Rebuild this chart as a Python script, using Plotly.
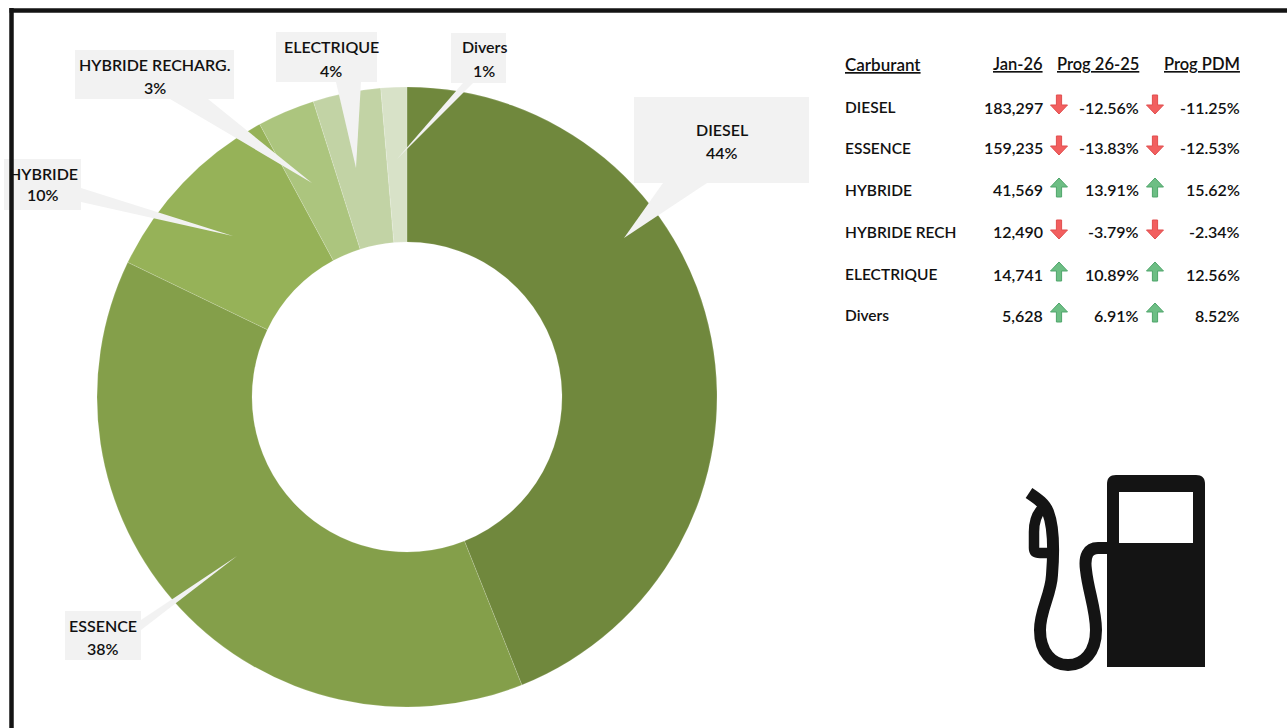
import plotly.graph_objects as go

W, H = 1287, 728

# ---- data ----
carburants = ["DIESEL", "ESSENCE", "HYBRIDE", "HYBRIDE RECH", "ELECTRIQUE", "Divers"]
callout_names = ["DIESEL", "ESSENCE", "HYBRIDE", "HYBRIDE RECHARG.", "ELECTRIQUE", "Divers"]
jan26 = [183297, 159235, 41569, 12490, 14741, 5628]
prog_26_25 = [-12.56, -13.83, 13.91, -3.79, 10.89, 6.91]
prog_pdm = [-11.25, -12.53, 15.62, -2.34, 12.56, 8.52]
headers = ["Carburant", "Jan-26", "Prog 26-25", "Prog PDM"]
slice_colors = ["#70883D", "#849F4A", "#96B258", "#ACC57E", "#C2D3A5", "#D8E2C8"]


def px(x):
    return x / W


def py(y):
    return 1 - y / H


def pth(cmds):
    out = []
    for c, *pts in cmds:
        out.append(c + " " + " ".join(f"{px(x):.5f},{py(y):.5f}" for x, y in pts))
    return " ".join(out)


FONT = "Lato"
shapes, annos = [], []


def text(x, y, s, anchor="center", size=16):
    annos.append(dict(x=px(x), y=py(y), xref="paper", yref="paper", text=s, showarrow=False,
                      xanchor=anchor, yanchor="middle", borderpad=0, borderwidth=0,
                      font=dict(family=FONT, size=size, color="#111111", weight=600)))


def path(cmds, fill=None, line=None, lw=0, closed=True):
    d = pth(cmds) + (" Z" if closed else "")
    shapes.append(dict(type="path", path=d, xref="paper", yref="paper", layer="above",
                       fillcolor=fill or "rgba(0,0,0,0)",
                       line=dict(color=line or "rgba(0,0,0,0)", width=lw)))


# ---- callouts: box (x0, y0, x1, y1), tail (base A, base B, tip), text centre, line ys ----
callouts = [
    ((634, 97, 809, 183), ((663, 183), (707, 183), (624, 238)), 722, (129, 152)),
    ((65, 611, 141, 660), ((141, 620), (141, 630), (237, 556)), 103, (625, 648)),
    ((4, 159, 81, 210), ((81, 188), (81, 202), (233, 236)), 43, (173, 195)),
    ((75, 50, 234, 99), ((170, 99), (208, 99), (312, 183)), 155, (64, 87)),
    ((276, 32, 377, 82), ((336, 82), (361, 82), (356, 168)), 331, (46, 70)),
    ((451, 33, 506, 83), ((463, 83), (473, 83), (397, 159)), 484, (47, 71)),
]
total = sum(jan26)
for name, v, (box, tail, cx, ys) in zip(callout_names, jan26, callouts):
    x0, y0, x1, y1 = box
    path([("M", (x0, y0)), ("L", (x1, y0)), ("L", (x1, y1)), ("L", (x0, y1))], fill="#F2F2F2")
    path([("M", tail[0]), ("L", tail[2]), ("L", tail[1])], fill="#F2F2F2")
    text(cx, ys[0], name)
    text(cx, ys[1], f"{round(v / total * 100)}%")

# ---- table ----
HEAD_Y = 64
ROW_Y = [107, 148, 190, 232, 274, 315]
LEFT, C1, C2, C3 = 845, 1043, 1139, 1240
A1, A2 = 1059, 1155

text(LEFT, HEAD_Y, f"<u>{headers[0]}</u>", "left", 17)
for xr, h in zip((C1, C2, C3), headers[1:]):
    text(xr, HEAD_Y, f"<u>{h}</u>", "right", 16.5)


def arrow(cx, rowy, up):
    col = ("#6DBE84", "#4FA56B") if up else ("#F25F5F", "#E04F4F")
    s = -1 if up else 1
    cy = rowy - 2.5
    hw, sw, hh, sh = 8.5, 2.6, 9.5, 0.5
    path([("M", (cx - sw, cy - s * hh)), ("L", (cx + sw, cy - s * hh)), ("L", (cx + sw, cy + s * sh)),
          ("L", (cx + hw, cy + s * sh)), ("L", (cx, cy + s * hh)), ("L", (cx - hw, cy + s * sh)),
          ("L", (cx - sw, cy + s * sh))], fill=col[0], line=col[1], lw=1)


for name, y, v, p1, p2 in zip(carburants, ROW_Y, jan26, prog_26_25, prog_pdm):
    text(LEFT, y, name, "left", 15.5)
    text(C1, y, f"{v:,}", "right")
    text(C2, y, f"{p1:.2f}%", "right")
    text(C3, y, f"{p2:.2f}%", "right")
    arrow(A1, y, p1 > 0)
    arrow(A2, y, p2 > 0)

# ---- pump icon ----
INK = "#141414"
r = 9
path([("M", (1107, 667)), ("L", (1107, 475 + r)), ("C", (1107, 478), (1110, 475), (1107 + r, 475)),
      ("L", (1205 - r, 475)), ("C", (1202, 475), (1205, 478), (1205, 475 + r)),
      ("L", (1205, 667))], fill=INK)
path([("M", (1119, 492)), ("L", (1193, 492)), ("L", (1193, 543)), ("L", (1119, 543))], fill="#FFFFFF")
path([("M", (1107, 548)), ("L", (1098, 548)),
      ("C", (1088, 548), (1084, 556), (1086, 570)),
      ("C", (1088, 590), (1096, 610), (1096, 630)),
      ("C", (1096, 652), (1084, 665), (1068, 665)),
      ("C", (1052, 665), (1040, 652), (1040, 630)),
      ("C", (1040, 610), (1051, 595), (1052, 575)),
      ("C", (1054, 550), (1053, 525), (1048, 512)),
      ("C", (1045, 504), (1038, 499), (1029, 493))],
     line=INK, lw=12, closed=False)
path([("M", (1043, 508)), ("C", (1036, 514), (1034, 522), (1034, 532)),
      ("L", (1034, 548)), ("C", (1034, 552), (1036, 553), (1040, 553)), ("L", (1052, 553))],
     line=INK, lw=10.5, closed=False)

# ---- frame, on top of everything ----
shapes.append(dict(type="line", xref="paper", yref="paper", x0=px(9.5), x1=1, y0=py(10.5), y1=py(10.5),
                   layer="above", line=dict(color="#141414", width=4.5)))
shapes.append(dict(type="line", xref="paper", yref="paper", x0=px(11.5), x1=px(11.5), y0=py(8), y1=0,
                   layer="above", line=dict(color="#141414", width=4.5)))

fig = go.Figure(go.Pie(
    labels=callout_names, values=jan26, hole=0.5, sort=False, direction="clockwise", rotation=0,
    textinfo="none", hoverinfo="label+percent",
    marker=dict(colors=slice_colors, line=dict(color="rgba(255,255,255,0.3)", width=0.5)),
    domain=dict(x=[px(97), px(717)], y=[py(707), py(87)]),
))
fig.update_layout(width=W, height=H, margin=dict(l=0, r=0, t=0, b=0), showlegend=False,
                  paper_bgcolor="#FFFFFF", shapes=shapes, annotations=annos)
fig.write_html("out.html", config=dict(displayModeBar=False),
               post_script="document.body.style.margin='0';document.body.style.overflow='hidden';")
